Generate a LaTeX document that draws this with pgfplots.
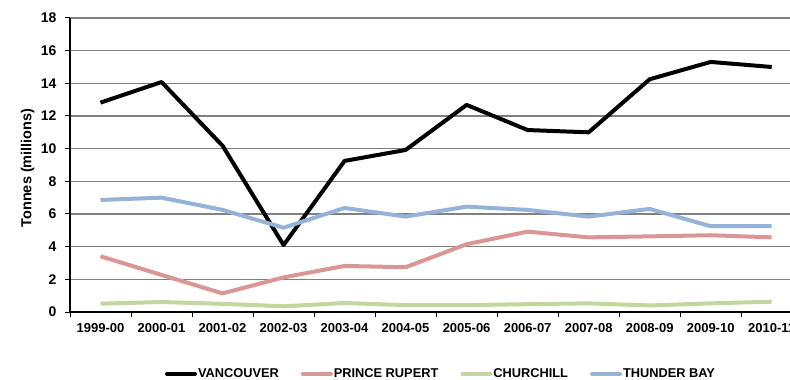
\documentclass[border=0pt]{standalone}
\usepackage{fontspec}
\setmainfont{Liberation Sans}
\usepackage{pgfplots}
\pgfplotsset{compat=1.18}
\definecolor{vanc}{RGB}{0,0,0}
\definecolor{prup}{RGB}{217,150,148}
\definecolor{chur}{RGB}{195,214,155}
\definecolor{thun}{RGB}{149,179,215}
\definecolor{gridc}{RGB}{128,128,128}
\begin{document}
\begin{tikzpicture}
\begin{axis}[
  at={(70bp,68bp)}, anchor=south west,
  scale only axis, width=720bp, height=294bp,
  xmin=-0.5, xmax=11.3, ymin=0, ymax=18,
  xtick={0,...,11},
  xticklabels={1999-00,2000-01,2001-02,2002-03,2003-04,2004-05,2005-06,2006-07,2007-08,2008-09,2009-10,2010-11},
  minor xtick={-0.5,0.5,...,11.5},
  ytick={0,2,...,18},
  axis x line*=bottom, axis y line*=left,
  axis line style={black, line width=1.6bp},
  tick align=outside,
  major tick length=5bp, minor tick length=5bp,
  major x tick style={draw=none},
  minor x tick style={black, line width=1bp},
  major y tick style={black, line width=1bp},
  ymajorgrids, grid style={gridc, line width=1.2bp},
  xticklabel style={font=\bfseries\fontsize{13bp}{15bp}\selectfont, yshift=-3bp},
  yticklabel style={font=\bfseries\fontsize{14bp}{16bp}\selectfont, xshift=-5bp},
  /pgf/number format/assume math mode=true,
  ylabel={Tonnes (millions)},
  every axis y label/.style={at={(axis description cs:-0.059,0.49)}, rotate=90, anchor=center, font=\bfseries\fontsize{14.5bp}{16bp}\selectfont},
  legend columns=4,
  legend style={at={(axis description cs:0.5146,-0.211)}, anchor=center, draw=none, fill=none,
    font=\bfseries\fontsize{12.8bp}{14bp}\selectfont,
    /tikz/every even column/.append style={column sep=21bp},
    nodes={inner sep=1bp}},
  legend image code/.code={\draw[#1, line cap=round] (2bp,0bp) -- (30bp,0bp);},
  every axis plot/.append style={line width=4bp, line join=round, mark=none},
]
\addplot[vanc] coordinates {(0,12.82) (1,14.08) (2,10.18) (3,4.10) (4,9.25) (5,9.92) (6,12.68) (7,11.14) (8,11.0) (9,14.25) (10,15.31) (11,15.0)};
\addlegendentry{VANCOUVER}
\addplot[prup] coordinates {(0,3.41) (1,2.27) (2,1.14) (3,2.12) (4,2.82) (5,2.74) (6,4.15) (7,4.92) (8,4.57) (9,4.63) (10,4.70) (11,4.57)};
\addlegendentry{PRINCE RUPERT}
\addplot[chur] coordinates {(0,0.51) (1,0.61) (2,0.50) (3,0.35) (4,0.55) (5,0.42) (6,0.42) (7,0.48) (8,0.53) (9,0.40) (10,0.53) (11,0.63)};
\addlegendentry{CHURCHILL}
\addplot[thun] coordinates {(0,6.86) (1,7.0) (2,6.25) (3,5.16) (4,6.37) (5,5.84) (6,6.45) (7,6.25) (8,5.84) (9,6.31) (10,5.25) (11,5.25)};
\addlegendentry{THUNDER BAY}
\end{axis}
\pgfresetboundingbox
\useasboundingbox (0,0) rectangle (790bp,380bp);
\end{tikzpicture}
\end{document}
